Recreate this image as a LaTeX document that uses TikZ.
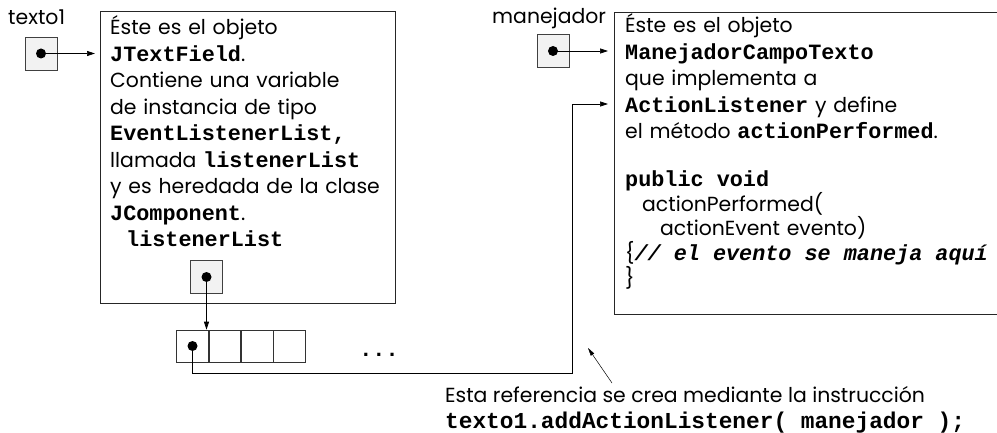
\documentclass[tikz,border=0pt]{standalone}
\usepackage{fontspec}
\setmainfont{Poppins}
\setmonofont{Liberation Mono}
\usetikzlibrary{arrows.meta}
\newcommand{\cbold}[1]{{\fontsize{21.8}{26.5}\selectfont\ttfamily\bfseries\spaceskip=0.6em\relax #1}}
\newcommand{\cboldit}[1]{{\fontsize{21.8}{26.5}\selectfont\ttfamily\bfseries\itshape\spaceskip=0.6em\relax #1}}
\begin{document}
\begin{tikzpicture}[x=1pt,y=-1pt,
  objbox/.style={draw=black!85, line width=0.8pt, inner sep=0, anchor=north west},
  ptrbox/.style={draw=black!75, fill=black!5, line width=0.6pt, minimum width=32pt, minimum height=33pt, inner sep=0},
  cellbox/.style={draw=black!80, line width=0.6pt, minimum width=31.75pt, minimum height=32pt, inner sep=0},
  refdot/.style={circle, fill=black, minimum size=10pt, inner sep=0},
  arr/.style={-{Triangle[length=8pt,width=5pt]}, line width=0.7pt},
  thinarr/.style={-{Triangle[length=8pt,width=4pt]}, line width=0.5pt},
  lbl/.style={font=\fontsize{20.4}{24}\selectfont, inner sep=0, anchor=base west},
  bodytxt/.style={inner sep=0, anchor=base west, text width=380pt, align=left}
]
\useasboundingbox (0,0) rectangle (997,433);
\clip (0,0) rectangle (997,433);

% labels
\node[lbl] (lt1) at (8,25) {texto1};
\node[lbl] (lman) at (492,24) {manejador};

% object boxes
\node[objbox, minimum width=295pt, minimum height=292pt] (obj1) at (100,11) {};
\node[objbox, minimum width=420pt, minimum height=302pt] (obj2) at (614,12) {};

% left box text
\node[bodytxt, font=\fontsize{20.4}{26.5}\selectfont] (t1) at (110,35)
 {Éste es el objeto\\
  \cbold{JTextField}.\\
  Contiene una variable\\
  de instancia de tipo\\
  \cbold{EventListenerList,}\\
  llamada \cbold{listenerList}\\
  y es heredada de la clase\\
  \cbold{JComponent}.\\
  \hspace*{16pt}\cbold{listenerList}};

% right box text
\node[bodytxt, font=\fontsize{20.4}{26.5}\selectfont] (t2) at (625,33)
 {Éste es el objeto\\
  \cbold{ManejadorCampoTexto}\\
  que implementa a\\
  \cbold{ActionListener} y define\\
  el método \cbold{actionPerformed}.};
\node[bodytxt, font=\fontsize{20.4}{25}\selectfont] (t3) at (625,186)
 {\cbold{public void}\\
  \hspace*{17pt}actionPerformed(\\
  \hspace*{35pt}actionEvent evento)\\
  \{\cboldit{// el evento se maneja aquí}\\
  \}};

% reference boxes
\node[ptrbox] (p1) at (41,53.5) {};
\node[ptrbox] (p2) at (553,51) {};
\node[ptrbox] (p3) at (206.5,277) {};

% array
\node[cellbox] (c1) at (192.5,346) {};
\node[cellbox, anchor=west] (c2) at (c1.east) {};
\node[cellbox, anchor=west] (c3) at (c2.east) {};
\node[cellbox, anchor=west] (c4) at (c3.east) {};
\node[inner sep=0, anchor=base] (ell) at (379,356) {\cbold{...}};

% dots
\node[refdot] (d1) at (p1.center) {};
\node[refdot] (d2) at (p2.center) {};
\node[refdot] (d3) at (p3.center) {};
\node[refdot] (d4) at (c1.center) {};

% connectors
\draw[arr, shorten >=5pt] (d1.center) -- (d1 -| obj1.west);
\draw[arr, shorten >=6pt] (d2.center) -- (d2 -| obj2.west);
\draw[arr] (d3.center) -- (d3 |- c1.north);
\coordinate (bend) at (572,373);
\coordinate (entry) at (614,104);
\draw[arr, shorten >=6pt] (d4.center) |- (bend) |- (entry);

% note
\node[lbl] (note1) at (445,402) {Esta referencia se crea mediante la instrucción};
\node[inner sep=0, anchor=base west, font=\fontsize{22.8}{24}\selectfont] (note2) at (445,428) {\texttt{\textbf{texto1.addActionListener( manejador );}}};
\coordinate (notetail) at (612,383);
\coordinate (notetip) at (588,348);
\draw[thinarr] (notetail) -- (notetip);
\end{tikzpicture}
\end{document}
